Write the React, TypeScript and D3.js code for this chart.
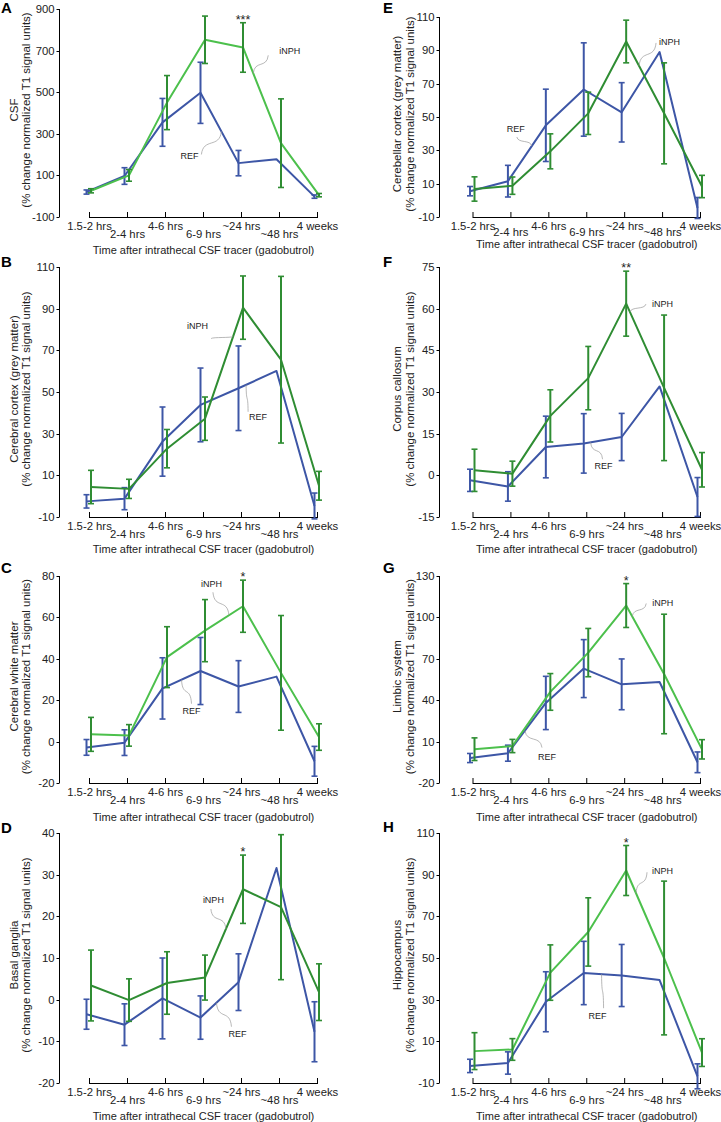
import * as d3 from 'd3';

const timepoints = ['1.5-2 hrs', '2-4 hrs', '4-6 hrs', '6-9 hrs', '~24 hrs', '~48 hrs', '4 weeks'];

// A  CSF
const csfTicks = [-100, 100, 300, 500, 700, 900];
const csfRef = [20, 97, 355, 497, 159, 178, -2];
const csfRefErr = [10, 40, 115, 147, 61, null, 8];
const csfNph = [26, 100, 450, 752, 715, 255, 5];
const csfNphErr = [10, 28, 130, 114, 119, 213, 8];

// B  cerebral cortex
const ccTicks = [-10, 10, 30, 50, 70, 90, 110];
const ccRef = [-2.5, -1.2, 26.2, 43.8, 51.8, 60.1, -4.7];
const ccRefErr = [3.2, 5.3, 16.6, 17.7, 20.3, null, 6.2];
const ccNph = [4.4, 3.5, 22.8, 37.2, 90.5, 65.5, 5.0];
const ccNphErr = [8, 4.6, 9.2, 10.4, 15.2, 40, 6.9];

// C  cerebral white matter
const wmTicks = [-20, 0, 20, 40, 60, 80];
const wmRef = [-2.8, -0.5, 25.7, 34.1, 26.6, 31.4, -9.5];
const wmRefErr = [3.8, 6.2, 14.8, 16.2, 12.5, null, 7.2];
const wmNph = [3.5, 3.0, 40.8, 53.6, 65.4, 33.2, 2.2];
const wmNphErr = [8.2, 5.2, 14.7, 15, 12.6, 27.7, 6.4];

// D  basal ganglia
const bgTicks = [-20, -10, 0, 10, 20, 30, 40];
const bgRef = [-3.5, -6, 0.3, -4.3, 4.2, 31.6, -7.7];
const bgRefErr = [3.6, 5, 9.7, 5.2, 6.8, null, 7.2];
const bgNph = [3.4, -0.1, 4.0, 5.3, 26.5, 22.2, 1.8];
const bgNphErr = [8.5, 5.1, 7.5, 5.4, 8.2, 17.4, 6.8];

// E  cerebellar cortex
const cbTicks = [-10, 10, 30, 50, 70, 90, 110];
const cbRef = [5.5, 11.5, 45, 66.5, 52.8, 89, -4.6];
const cbRefErr = [2.8, 9.5, 21.7, 28, 17.8, null, 6.3];
const cbNph = [6.8, 8.8, 29.4, 52.2, 95.3, 52.2, 8.3];
const cbNphErr = [7.3, 5.2, 10.5, 12.7, 12.8, 30.3, 6.7];

// F  corpus callosum
const corTicks = [-15, 0, 15, 30, 45, 60, 75];
const corRef = [-1.8, -4.0, 10.2, 11.5, 13.8, 32, -7.8];
const corRefErr = [4, 5.3, 11.1, 10.7, 8.5, null, 7];
const corNph = [1.8, 0.6, 21.4, 35, 61.8, 31.5, 2];
const corNphErr = [7.6, 4.5, 9.4, 11.4, 11.7, 26.2, 6.2];

// G  limbic system
const limTicks = [-20, 10, 40, 70, 100, 130];
const limRef = [-1.9, 1.6, 38, 62.9, 51.5, 53.2, -5];
const limRefErr = [3.3, 5.8, 19.3, 21, 18.4, null, 7.5];
const limNph = [4.5, 6.8, 46, 74.5, 108.6, 59, 4.4];
const limNphErr = [8.2, 4.8, 13.3, 17.5, 15.9, 43.3, 7];

// H  hippocampus
const hipTicks = [-10, 10, 30, 50, 70, 90, 110];
const hipRef = [-1.8, -0.4, 29, 42.8, 41.6, 39.4, -6.8];
const hipRefErr = [3.2, 5.35, 14.4, 15.2, 14.9, null, 6];
const hipNph = [5.3, 6.1, 43, 62.5, 92, 50, 4.6];
const hipNphErr = [8.85, 5.2, 13.3, 16.4, 12, 36.9, 6.65];

const BLUE = '#3d56a6';
const DARK_GREEN = '#2f8d33';
const LIGHT_GREEN = '#4cc04c';
const TEXT = '#222';
const FONT = '"Liberation Sans", Arial, Helvetica, sans-serif';
const YSUB = '(% change normalized T1 signal units)';
const XTITLE = 'Time after intrathecal CSF tracer (gadobutrol)';

const cols = [
  { axisX: 59.5, x0: 89.5, x1: 317.5, letterX: 1, yl1: -46, yl2: -34 },
  { axisX: 439.5, x0: 473, x1: 700.5, letterX: 383, yl1: -43, yl2: -30 },
];

type Note = { s: 'ref' | 'nph'; t: number; ex: number; ey: number; lx: number; ly: number; anchor: string };

const panels = [
  { letter: 'A', title: 'CSF', col: 0, top: 9, bottom: 217, letterY: 13, row2: 21, xtGap: 37, light: true, ticks: csfTicks,
    ref: csfRef, refErr: csfRefErr, nph: csfNph, nphErr: csfNphErr, star: '***',
    notes: [{ s: 'nph', t: 4.27, ex: 15, ey: -18, lx: 26, ly: -22, anchor: 'start' },
            { s: 'ref', t: 3.55, ex: -20, ey: 23, lx: -23, ly: 24, anchor: 'end' }] },
  { letter: 'B', title: 'Cerebral cortex (grey matter)', col: 0, top: 267, bottom: 517, letterY: 267, row2: 21, xtGap: 36, light: false, ticks: ccTicks,
    ref: ccRef, refErr: ccRefErr, nph: ccNph, nphErr: ccNphErr, star: '',
    notes: [{ s: 'nph', t: 3.74, ex: -22, ey: 2, lx: -25, ly: -11, anchor: 'end' },
            { s: 'ref', t: 4.2, ex: 2, ey: 27, lx: 3, ly: 32, anchor: 'start' }] },
  { letter: 'C', title: 'Cerebral white matter', col: 0, top: 576, bottom: 783, letterY: 573, row2: 21, xtGap: 38, light: true, ticks: wmTicks,
    ref: wmRef, refErr: wmRefErr, nph: wmNph, nphErr: wmNphErr, star: '*',
    notes: [{ s: 'nph', t: 3.63, ex: -16, ey: -23, lx: -7, ly: -31, anchor: 'end' },
            { s: 'ref', t: 2.5, ex: 10, ey: 24, lx: 1, ly: 31, anchor: 'start' }] },
  { letter: 'D', title: 'Basal ganglia', col: 0, top: 833, bottom: 1083, letterY: 833, row2: 21, xtGap: 37, light: false, ticks: bgTicks,
    ref: bgRef, refErr: bgRefErr, nph: bgNph, nphErr: bgNphErr, star: '*',
    notes: [{ s: 'nph', t: 3.55, ex: -15, ey: -20, lx: -2, ly: -29, anchor: 'end' },
            { s: 'ref', t: 3.42, ex: 15, ey: 24, lx: 12, ly: 31, anchor: 'start' }] },
  { letter: 'E', title: 'Cerebellar cortex (grey matter)', col: 1, top: 17, bottom: 217, letterY: 13, row2: 19, xtGap: 31, light: false, ticks: cbTicks,
    ref: cbRef, refErr: cbRefErr, nph: cbNph, nphErr: cbNphErr, star: '',
    notes: [{ s: 'nph', t: 4.34, ex: 17, ey: -23, lx: 20, ly: -24, anchor: 'start' },
            { s: 'ref', t: 1.63, ex: -15, ey: -9, lx: -7, ly: -17, anchor: 'end' }] },
  { letter: 'F', title: 'Corpus callosum', col: 1, top: 267, bottom: 517, letterY: 267, row2: 21, xtGap: 36, light: false, ticks: corTicks,
    ref: corRef, refErr: corRefErr, nph: corNph, nphErr: corNphErr, star: '**',
    notes: [{ s: 'nph', t: 4.1, ex: 16, ey: -8, lx: 22, ly: -8, anchor: 'start' },
            { s: 'ref', t: 3.18, ex: 12, ey: 17, lx: 4, ly: 24, anchor: 'start' }] },
  { letter: 'G', title: 'Limbic system', col: 1, top: 576, bottom: 783, letterY: 573, row2: 21, xtGap: 38, light: true, ticks: limTicks,
    ref: limRef, refErr: limRefErr, nph: limNph, nphErr: limNphErr, star: '*',
    notes: [{ s: 'nph', t: 4.16, ex: 14, ey: -13, lx: 20, ly: -14, anchor: 'start' },
            { s: 'ref', t: 1.45, ex: 17, ey: 17, lx: 13, ly: 26, anchor: 'start' }] },
  { letter: 'H', title: 'Hippocampus', col: 1, top: 833, bottom: 1083, letterY: 832, row2: 21, xtGap: 37, light: true, ticks: hipTicks,
    ref: hipRef, refErr: hipRefErr, nph: hipNph, nphErr: hipNphErr, star: '*',
    notes: [{ s: 'nph', t: 4.26, ex: 11, ey: -21, lx: 16, ly: -22, anchor: 'start' },
            { s: 'ref', t: 3.47, ex: 2, ey: 34, lx: -4, ly: 42, anchor: 'middle' }] },
];

const REF_DX = -3;
const NPH_DX = 1.5;

function Panel({ p }: { p: (typeof panels)[number] }) {
  const c = cols[p.col];
  const x = d3.scalePoint<string>().domain(timepoints).range([c.x0, c.x1]);
  const y = d3.scaleLinear().domain(d3.extent(p.ticks) as [number, number]).range([p.bottom, p.top]);
  const line = d3.line<number>().x((_, i) => x(timepoints[i])!).y(d => y(d));
  const midY = (p.top + p.bottom) / 2 - 3;

  const series = [
    { key: 'ref', mean: p.ref, err: p.refErr, dx: REF_DX, lineColor: BLUE, barColor: BLUE },
    { key: 'nph', mean: p.nph, err: p.nphErr, dx: NPH_DX, lineColor: p.light ? LIGHT_GREEN : DARK_GREEN, barColor: DARK_GREEN },
  ];

  const starTop = y(p.nph[4] + (p.nphErr[4] ?? 0));

  return (
    <g>
      <text x={c.letterX} y={p.letterY} fontSize={15} fontWeight="bold" fontFamily={FONT} fill="#000">{p.letter}</text>

      {/* y axis */}
      <line x1={c.axisX} x2={c.axisX} y1={p.top} y2={p.bottom} stroke="#000" strokeWidth={1} />
      {p.ticks.map(t => (
        <g key={t}>
          <line x1={c.axisX - 3} x2={c.axisX} y1={Math.round(y(t)) + 0.5} y2={Math.round(y(t)) + 0.5} stroke="#000" />
          <text x={c.axisX - 5} y={y(t)} dy="0.35em" textAnchor="end" fontSize={11.3} fontFamily={FONT} fill={TEXT}>{t}</text>
        </g>
      ))}
      <g transform={`translate(${c.axisX + c.yl1},${midY}) rotate(-90)`}>
        <text textAnchor="middle" dy="0.35em" fontSize={11.5} fontFamily={FONT} fill={TEXT}>{p.title}</text>
      </g>
      <g transform={`translate(${c.axisX + c.yl2},${midY}) rotate(-90)`}>
        <text textAnchor="middle" dy="0.35em" fontSize={11.5} fontFamily={FONT} fill={TEXT}>{YSUB}</text>
      </g>

      {/* x axis */}
      <line x1={c.x0} x2={c.x1} y1={p.bottom + 0.5} y2={p.bottom + 0.5} stroke="#000" />
      {timepoints.map((tp, i) => (
        <g key={tp}>
          <line x1={x(tp)} x2={x(tp)} y1={p.bottom - 5} y2={p.bottom + 1} stroke="#000" />
          <text x={x(tp)} y={p.bottom + (i % 2 === 0 ? 13 : p.row2)} textAnchor="middle" fontSize={11.3} fontFamily={FONT} fill={TEXT}>{tp}</text>
        </g>
      ))}
      <text x={(c.x0 + c.x1) / 2} y={p.bottom + p.xtGap} textAnchor="middle" fontSize={11} fontFamily={FONT} fill={TEXT}>{XTITLE}</text>

      {/* series: blue REF first, green iNPH on top */}
      {series.map(s => (
        <g key={s.key} transform={`translate(${s.dx},0)`}>
          <path d={line(s.mean) ?? ''} fill="none" stroke={s.lineColor} strokeWidth={2} strokeLinejoin="round" />
          {s.mean.map((m, i) => {
            const e = s.err[i];
            if (e == null) return null;
            const cx = x(timepoints[i])!;
            const y1 = y(m + e);
            const y2 = y(m - e);
            return (
              <g key={i} stroke={s.barColor}>
                <line x1={cx} x2={cx} y1={y1} y2={y2} strokeWidth={2} />
                <line x1={cx - 3} x2={cx + 3} y1={y1} y2={y1} strokeWidth={1.6} />
                <line x1={cx - 3} x2={cx + 3} y1={y2} y2={y2} strokeWidth={1.6} />
              </g>
            );
          })}
        </g>
      ))}

      {p.star && (
        <text x={x(timepoints[4])! + NPH_DX} y={starTop + 1} textAnchor="middle" fontSize={12.5} fontFamily={FONT} fill={TEXT}>{p.star}</text>
      )}

      {/* leader annotations */}
      {(p.notes as Note[]).map(n => {
        const s = n.s === 'ref' ? series[0] : series[1];
        const i = Math.min(Math.floor(n.t), timepoints.length - 2);
        const f = n.t - i;
        const tx = x(timepoints[i])! * (1 - f) + x(timepoints[i + 1])! * f + s.dx;
        const ty = y(s.mean[i] * (1 - f) + s.mean[i + 1] * f);
        const ex = tx + n.ex;
        const ey = ty + n.ey;
        const path = `M${tx},${ty} C${tx + n.ex * 0.1},${ty + n.ey * 0.75} ${tx + n.ex * 0.9},${ty + n.ey * 0.25} ${ex},${ey}`;
        return (
          <g key={n.s}>
            <path d={path} fill="none" stroke="#9a9a9a" strokeWidth={0.7} />
            <text x={tx + n.lx} y={ty + n.ly} dy="0.35em" textAnchor={n.anchor} fontSize={9} fontFamily={FONT} fill={TEXT}>
              {n.s === 'ref' ? 'REF' : 'iNPH'}
            </text>
          </g>
        );
      })}
    </g>
  );
}

export default function App() {
  return (
    <div>
      <style>{`body{margin:0;background:#fff}`}</style>
      <svg width={721} height={1122} style={{ display: 'block' }}>
        <rect width={721} height={1122} fill="#fff" />
        {panels.map(p => <Panel key={p.letter} p={p} />)}
      </svg>
    </div>
  );
}
